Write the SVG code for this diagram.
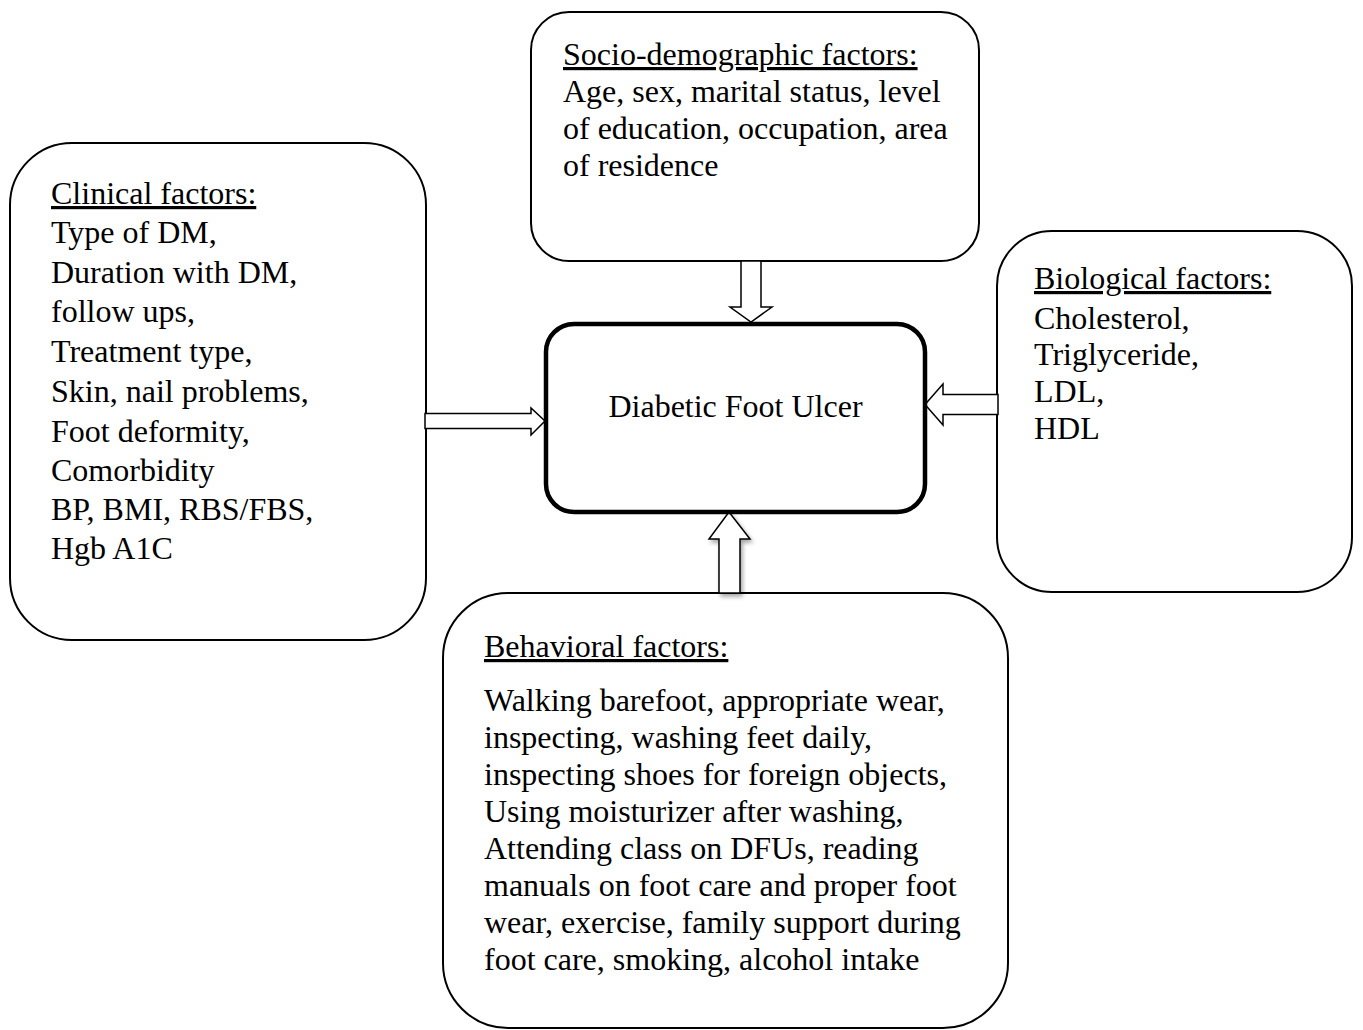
<svg xmlns="http://www.w3.org/2000/svg" width="1363" height="1030" viewBox="0 0 1363 1030">
<style>
.box{fill:#fff;stroke:#000;stroke-width:2}
.center{fill:#fff;stroke:#000;stroke-width:4.5}
.arrow{fill:#fff;stroke:#000;stroke-width:1.5;stroke-linejoin:miter}
text{font-family:"Liberation Serif","Times New Roman",serif;font-size:32px;fill:#000}
.title{text-decoration:underline}
</style>
<defs>
<filter id="sh" x="-50%" y="-20%" width="200%" height="140%">
<feDropShadow dx="2" dy="3" stdDeviation="2" flood-color="#000" flood-opacity="0.35"/>
</filter>
</defs>
<rect width="1363" height="1030" fill="#fff"/>
<g id="socio">
<rect class="box" x="531" y="12" width="448" height="249" rx="38"/>
<text x="563" y="65" class="title">Socio-demographic factors:</text>
<text x="563" y="102">Age, sex, marital status, level</text>
<text x="563" y="139">of education, occupation, area</text>
<text x="563" y="176">of residence</text>
</g>
<g id="clinical">
<rect class="box" x="10" y="143" width="416" height="497" rx="62"/>
<text x="51" y="204" class="title">Clinical factors:</text>
<text x="51" y="243">Type of DM,</text>
<text x="51" y="283">Duration with DM,</text>
<text x="51" y="322">follow ups,</text>
<text x="51" y="362">Treatment type,</text>
<text x="51" y="402">Skin, nail problems,</text>
<text x="51" y="442">Foot deformity,</text>
<text x="51" y="481">Comorbidity</text>
<text x="51" y="520">BP, BMI, RBS/FBS,</text>
<text x="51" y="559">Hgb A1C</text>
</g>
<g id="biological">
<rect class="box" x="997" y="231" width="355" height="361" rx="55"/>
<text x="1034" y="289" class="title">Biological factors:</text>
<text x="1034" y="329">Cholesterol,</text>
<text x="1034" y="365">Triglyceride,</text>
<text x="1034" y="402">LDL,</text>
<text x="1034" y="439">HDL</text>
</g>
<g id="behavioral">
<rect class="box" x="443" y="593" width="565" height="435" rx="65"/>
<text x="484" y="657" class="title">Behavioral factors:</text>
<text x="484" y="711">Walking barefoot, appropriate wear,</text>
<text x="484" y="748">inspecting, washing feet daily,</text>
<text x="484" y="785">inspecting shoes for foreign objects,</text>
<text x="484" y="822">Using moisturizer after washing,</text>
<text x="484" y="859">Attending class on DFUs, reading</text>
<text x="484" y="896">manuals on foot care and proper foot</text>
<text x="484" y="933">wear, exercise, family support during</text>
<text x="484" y="970">foot care, smoking, alcohol intake</text>
</g>
<g id="connectors">
<polygon class="arrow" points="741,261 761,261 761,307 772,307 751,322 730,307 741,307"/>
<polygon class="arrow" points="425,413.5 531,413.5 531,408 545,421 531,435 531,428.5 425,428.5"/>
<polygon class="arrow" points="998,394.5 943,394.5 943,384 925,404.5 943,425 943,414.5 998,414.5"/>
<polygon class="arrow" filter="url(#sh)" points="719,593 719,539 709,539 729,512 750,539 740,539 740,593"/>
</g>
<g id="dfu">
<rect class="center" x="546" y="324" width="379" height="188" rx="28"/>
<text x="735.5" y="417" text-anchor="middle">Diabetic Foot Ulcer</text>
</g>
</svg>
